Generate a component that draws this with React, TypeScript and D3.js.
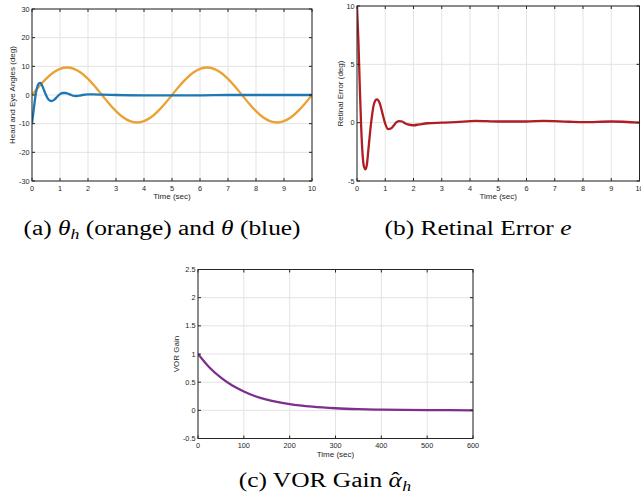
import React from "react";
import * as d3 from "d3";

// ---------- data ----------
const headT = [0,0.25,0.5,0.75,1,1.25,1.5,1.75,2,2.25,2.5,2.75,3,3.25,3.5,3.75,4,4.25,4.5,4.75,5,5.25,5.5,5.75,6,6.25,6.5,6.75,7,7.25,7.5,7.75,8,8.25,8.5,8.75,9,9.25,9.5,9.75,10];
const headV = [0,2.97,5.64,7.77,9.13,9.6,9.13,7.77,5.64,2.97,0,-2.97,-5.64,-7.77,-9.13,-9.6,-9.13,-7.77,-5.64,-2.97,0,2.97,5.64,7.77,9.13,9.6,9.13,7.77,5.64,2.97,0,-2.97,-5.64,-7.77,-9.13,-9.6,-9.13,-7.77,-5.64,-2.97,0];

const eyeT = [0,0.05,0.1,0.15,0.2,0.25,0.3,0.35,0.4,0.5,0.6,0.7,0.8,0.9,1.0,1.1,1.2,1.3,1.4,1.5,1.6,1.7,1.8,2.0,2.2,2.5,3,4,5,6,7,8,9,10];
const eyeV = [-10,-6,-2,1.2,3.2,4.1,4.2,3.6,2.4,0,-1.7,-2.1,-1.6,-0.6,0.3,0.7,0.7,0.4,0,-0.3,-0.35,-0.2,0,0.2,0.2,0.1,0,-0.1,-0.1,-0.1,0,0,0,0];

const errT = [0,0.05,0.1,0.15,0.2,0.25,0.3,0.35,0.4,0.5,0.6,0.7,0.8,0.9,1.0,1.1,1.2,1.3,1.4,1.5,1.6,1.7,1.8,2.0,2.2,2.5,3,3.5,4.2,5,6,6.6,7.5,8,9,10];
const errV = [10,7,3,-0.5,-2.8,-3.8,-4.0,-3.6,-2.4,0,1.6,2.0,1.7,0.8,-0.1,-0.55,-0.5,-0.25,0.05,0.14,0.1,-0.05,-0.15,-0.22,-0.15,-0.05,0,0.05,0.15,0.1,0.1,0.15,0.08,0.05,0.1,0];

const gainT = [0,25,50,75,100,125,150,175,200,250,300,350,400,450,500,550,600];
const gainV = [1,0.76,0.58,0.44,0.335,0.25,0.19,0.145,0.11,0.064,0.037,0.021,0.012,0.007,0.004,0.002,0.001];

const ticksA_x = [0,1,2,3,4,5,6,7,8,9,10];
const ticksA_y = [-30,-20,-10,0,10,20,30];
const ticksB_y = [-5,0,5,10];
const ticksC_x = [0,100,200,300,400,500,600];
const ticksC_y = [-0.5,0,0.5,1,1.5,2,2.5];

const AX = "#262626";
const GRID = "#e3e3e3";
const SANS = "'Liberation Sans', Arial, Helvetica, sans-serif";
const SERIF = "'Liberation Serif', 'Times New Roman', serif";
const CAP_SX = 1.27;

type Series = { t: number[]; v: number[]; color: string };

function Panel(props: {
  x0: number; x1: number; y0: number; y1: number;
  xd: [number, number]; yd: [number, number];
  xt: number[]; yt: number[]; ylabel: string; ylabelX: number;
  series: Series[]; id: string;
}) {
  const { x0, x1, y0, y1, xd, yd, xt, yt, ylabel, ylabelX, series, id } = props;
  const xs = d3.scaleLinear().domain(xd).range([x0, x1]);
  const ys = d3.scaleLinear().domain(yd).range([y1, y0]);
  const fmt = (v: number) => String(v);
  const tl = 3;
  return (
    <g>
      <defs>
        <clipPath id={id}>
          <rect x={x0} y={y0} width={x1 - x0} height={y1 - y0} />
        </clipPath>
      </defs>
      <rect x={x0} y={y0} width={x1 - x0} height={y1 - y0} fill="#fff" />
      {xt.map((t) => (
        <line key={"gx" + t} x1={xs(t)} x2={xs(t)} y1={y0} y2={y1} stroke={GRID} strokeWidth={1} />
      ))}
      {yt.map((t) => (
        <line key={"gy" + t} x1={x0} x2={x1} y1={ys(t)} y2={ys(t)} stroke={GRID} strokeWidth={1} />
      ))}
      <g clipPath={`url(#${id})`}>
        {series.map((s, i) => {
          const pts = s.t.map((t, k) => [t, s.v[k]] as [number, number]);
          const line = d3.line<[number, number]>().x((d) => xs(d[0])).y((d) => ys(d[1])).curve(d3.curveMonotoneX);
          return <path key={i} d={line(pts) || ""} fill="none" stroke={s.color} strokeWidth={2.3} strokeLinejoin="round" />;
        })}
      </g>
      <rect x={x0} y={y0} width={x1 - x0} height={y1 - y0} fill="none" stroke={AX} strokeWidth={1} />
      {xt.map((t) => (
        <g key={"tx" + t}>
          <line x1={xs(t)} x2={xs(t)} y1={y1} y2={y1 - tl} stroke={AX} />
          <line x1={xs(t)} x2={xs(t)} y1={y0} y2={y0 + tl} stroke={AX} />
          <text x={xs(t)} y={y1 + 9.5} fontSize={7.3} fontFamily={SANS} fill={AX} textAnchor="middle">{fmt(t)}</text>
        </g>
      ))}
      {yt.map((t) => (
        <g key={"ty" + t}>
          <line x1={x0} x2={x0 + tl} y1={ys(t)} y2={ys(t)} stroke={AX} />
          <line x1={x1} x2={x1 - tl} y1={ys(t)} y2={ys(t)} stroke={AX} />
          <text x={x0 - 2.5} y={ys(t) + 2.6} fontSize={7.3} fontFamily={SANS} fill={AX} textAnchor="end">{fmt(t)}</text>
        </g>
      ))}
      <text x={(x0 + x1) / 2} y={y1 + 18} fontSize={8} fontFamily={SANS} fill={AX} textAnchor="middle">Time (sec)</text>
      <text transform={`translate(${ylabelX},${(y0 + y1) / 2}) rotate(-90)`} fontSize={8} fontFamily={SANS} fill={AX} textAnchor="middle">{ylabel}</text>
    </g>
  );
}

export default function App() {
  return (
    <svg width={641} height={497} style={{ position: "absolute", left: 0, top: 0 }} xmlns="http://www.w3.org/2000/svg">
      <rect width={641} height={497} fill="#fff" />
      <Panel id="ca" x0={32} x1={312} y0={9} y1={181} xd={[0, 10]} yd={[-30, 30]} xt={ticksA_x} yt={ticksA_y}
        ylabel="Head and Eye Angles (deg)" ylabelX={15}
        series={[{ t: headT, v: headV, color: "#EAA131" }, { t: eyeT, v: eyeV, color: "#1F77B4" }]} />
      <Panel id="cb" x0={357} x1={639.5} y0={6} y1={181} xd={[0, 10]} yd={[-5, 10]} xt={ticksA_x} yt={ticksB_y}
        ylabel="Retinal Error (deg)" ylabelX={343}
        series={[{ t: errT, v: errV, color: "#B01E24" }]} />
      <Panel id="cc" x0={198} x1={473} y0={269.5} y1={438.5} xd={[0, 600]} yd={[-0.5, 2.5]} xt={ticksC_x} yt={ticksC_y}
        ylabel="VOR Gain" ylabelX={179}
        series={[{ t: gainT, v: gainV, color: "#7E2F8E" }]} />
      {/* captions */}
      <g transform={`translate(162,235) scale(${CAP_SX},1)`}>
        <text x={0} y={0} fontSize={20} fontFamily={SERIF} fill="#000" textAnchor="middle">
          <tspan>(a) </tspan>
          <tspan fontStyle="italic">θ</tspan>
          <tspan fontStyle="italic" fontSize={14} dy={4}>h</tspan>
          <tspan dy={-4}> (orange) and </tspan>
          <tspan fontStyle="italic">θ</tspan>
          <tspan> (blue)</tspan>
        </text>
      </g>
      <g transform={`translate(478,235) scale(${CAP_SX},1)`}>
        <text x={0} y={0} fontSize={20} fontFamily={SERIF} fill="#000" textAnchor="middle">
          <tspan>(b) Retinal Error </tspan>
          <tspan fontStyle="italic">e</tspan>
        </text>
      </g>
      <g transform={`translate(325,487) scale(${CAP_SX},1)`}>
        <text x={0} y={0} fontSize={20} fontFamily={SERIF} fill="#000" textAnchor="middle">
          <tspan>(c) VOR Gain </tspan>
          <tspan fontStyle="italic">α</tspan>
          <tspan dx={-8.3} dy={0}>ˆ</tspan>
          <tspan fontStyle="italic" fontSize={14} dx={2} dy={4}>h</tspan>
        </text>
      </g>
    </svg>
  );
}
